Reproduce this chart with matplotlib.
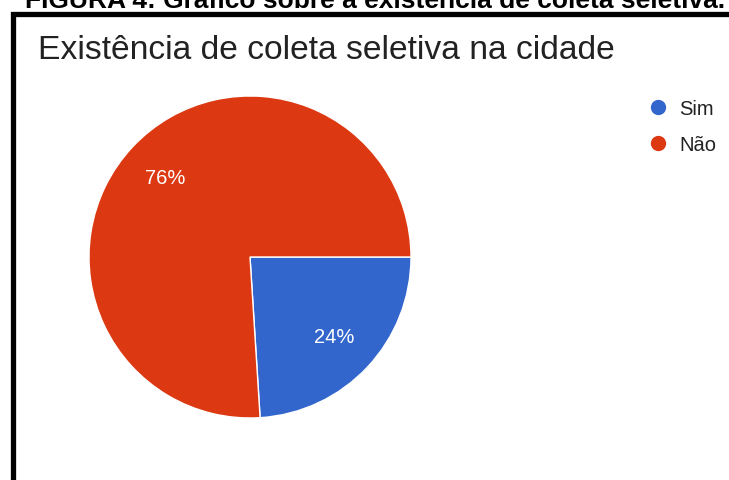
import matplotlib
matplotlib.use("Agg")
import matplotlib.pyplot as plt
from matplotlib.lines import Line2D
from matplotlib.patches import Rectangle

# Respostas da pesquisa
categorias = ["Sim", "Não"]
percentuais = [24, 76]
cores = ["#3366cc", "#dc3912"]

W, H = 729, 481
plt.rcParams["font.family"] = ["Liberation Sans", "DejaVu Sans"]

fig = plt.figure(figsize=(W / 100, H / 100), dpi=100)
fig.patch.set_facecolor("white")

# Legenda da figura (cortada no topo)
fig.text(25 / W, 1 - 8 / H,
         "FIGURA 4: Gráfico sobre a existência de coleta seletiva.",
         fontsize=19, fontweight="bold", color="black",
         ha="left", va="baseline")

# Moldura preta em volta do gráfico
fig.add_artist(Rectangle((12.5 / W, -0.1), 1.0, (H - 14.5) / H + 0.1,
                         transform=fig.transFigure, fill=False,
                         edgecolor="black", linewidth=3.8, clip_on=False))

fig.text(38 / W, 1 - 59 / H, "Existência de coleta seletiva na cidade",
         fontsize=24.2, color="#222222", ha="left", va="baseline")

# Pizza: centro (250, 258), raio 161 px
cx, cy, r = 250, 258, 161
ax = fig.add_axes([(cx - r) / W, (H - cy - r) / H, 2 * r / W, 2 * r / H])
wedges, textos, autotextos = ax.pie(
    percentuais, colors=cores, startangle=0, counterclock=False,
    autopct="%.0f%%", pctdistance=0.72,
    wedgeprops=dict(edgecolor="white", linewidth=1),
    textprops=dict(color="white", fontsize=14.5),
)
ax.set_xlim(-1, 1)
ax.set_ylim(-1, 1)
ax.set_aspect("equal")
ax.axis("off")

handles = [Line2D([], [], linestyle="none", marker="o", markersize=10,
                  markerfacecolor=c, markeredgecolor=c) for c in cores]
fig.legend(handles, categorias, loc="upper left",
           bbox_to_anchor=(648 / W, 1 - 100 / H), frameon=False,
           fontsize=14.5, handlelength=1.0, handletextpad=0.55,
           labelspacing=0.85, borderpad=0, borderaxespad=0,
           labelcolor="#222222")

fig.savefig("out.png", dpi=100)
